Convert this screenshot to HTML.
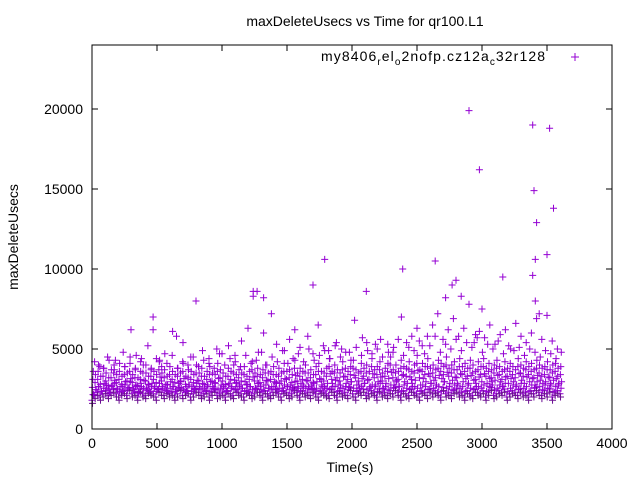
<!DOCTYPE html>
<html><head><meta charset="utf-8"><style>
body{margin:0;background:#fff}
svg text{font-family:"Liberation Sans",sans-serif;font-size:14px;fill:#000}
</style></head><body>
<svg id="chart" width="640" height="480">
<rect x="0" y="0" width="640" height="480" fill="#fff"/>
<g id="plot"></g>
<g id="axes"></g>
<text x="365" y="26" text-anchor="middle">maxDeleteUsecs vs Time for qr100.L1</text>
<text x="350" y="472" text-anchor="middle">Time(s)</text>
<text transform="translate(18,237) rotate(-90)" text-anchor="middle">maxDeleteUsecs</text>
<text x="321" y="61" textLength="224" lengthAdjust="spacing">my8406<tspan dy="4" font-size="10">r</tspan><tspan dy="-4">el</tspan><tspan dy="4" font-size="10">o</tspan><tspan dy="-4">2nofp.cz12a</tspan><tspan dy="4" font-size="10">c</tspan><tspan dy="-4">32r128</tspan></text>
</svg>
<script>
const xTicks=[0,500,1000,1500,2000,2500,3000,3500,4000];
const yTicks=[0,5000,10000,15000,20000];
const lowBand=[1800,2100,2300,2000,2200,2400,2100,2300,2500,2200,2000,2300,2400,2100,2600,2200,2300,2000,2500,2200,2100,2400,2300,2200,2000,2500,2300,2100,2400,2200,2300,2000,2200,2600,2100,2300,2400,2000,2200,2500,2300,2100,2200,2400,2000,2300,2500,2100,2200,2300,2000,2400,2200,2100,2500,2300,2200,2000,2400,2300,2100,2200,2500,2300,2000,2400,2200,2100,2300,2500,2200,2000,2400,2300,2100,2200,2600,2300,2000,2400,2200,2300,2100,2500,2200,2000,2400,2300,2200,2100,2500,2300,2000,2400,2200,2300,2100,2600,2200,2000,2400,2300,2500,2100,2200,2400,2300,2000,2500,2200,2300,2100,2400,2200,2600,2300,2000,2400,2200,2100,2500,2300,2200,2000,2400,2300,2100,2500,2200,2400,2300,2000,2600,2200,2300,2100,2400,2500,2200,2300,2000,2400,2200,2100,2500,2300,2200,2400,2000,2300,2600,2100,2200,2400,2300,2500,2000,2200,2400,2300,2100,2500,2200,2300,2000,2400,2200,2600,2300,2100,2400,2200,2500,2000,2300,2400,2200];
const midBand=[2600,2900,3100,2800,3300,3000,2700,3200,3500,2900,3100,2800,3400,3000,3600,2900,3200,2700,3100,3500,3000,2800,3300,3100,2900,3700,3000,3200,2800,3400,3100,2900,3300,3000,3600,2800,3200,3100,2900,3500,3000,3300,2800,3100,3400,3000,2900,3600,3200,3000,2800,3300,3100,3500,2900,3200,3000,3400,2800,3100,3700,3000,3300,2900,3200,3500,3000,3100,3400,2900,3300,3000,3600,3100,3200,2900,3800,3000,3300,3100,3500,3000,3200,2900,3400,3600,3100,3000,3300,3900,3100,3500,3200,3000,3700,3300,3100,3400,3800,3200,3000,3600,3300,3500,3100,3900,3200,3400,3700,3000,3300,3600,4000,3200,3500,3100,3800,3400,3300,3700,3100,3500,4100,3200,3600,3400,3900,3300,3500,3200,3800,3600,3400,4000,3300,3500,3700,3200,3900,3400,3600,3300,3800,3500,3100,3700,3400,3900,3300,3600,3200,3500,3800,3400,3100,3700,3300,3600,3400,3200,3900,3500,3300,3700,3400,3600,3200,3800,3500,3300,3400,3700,3200,3500,3600,3300,3400];
const upperBand=[3600,4000,3800,4300,3700,4100,3900,4500,3800,4200,4000,3700,4400,3900,4100,4600,3800,4200,4000,4500,3900,4300,4100,3800,4700,4000,4400,4200,3900,4600,4100,4300,4800,4000,4500,4200,4900,4100,4400,4700,4200,5000,4300,4600,4900,4400,5200,4500,4800,4300,5100,4600,5400,4700,5000,4500,5300,4800,5600,4600,5100,4900,5500,4700,5200,5800,4800,5300,5000,5600,4900,5400,5100,5700,4800,5300,5000,5500,4700,5200,4900,5100,4600,5000,4800,4500,4900,4700,4400,4800];
const highTimes=[20,60,120,180,240,300,340,380,430,470,520,560,620,650,700,760,800,850,900,960,1000,1050,1100,1150,1200,1240,1280,1320,1380,1420,1480,1520,1560,1600,1660,1700,1740,1780,1820,1880,1920,1980,2020,2080,2120,2180,2220,2280,2320,2380,2420,2460,2500,2540,2580,2620,2660,2700,2740,2780,2820,2860,2900,2940,2980,3020,3060,3100,3140,3180,3220,3260,3300,3340,3380,3420,3460,3500,3540,3580];
const highVals=[4200,3900,4500,4300,4800,6200,4600,4400,5200,7000,4300,4700,6100,5800,5400,4500,8000,4900,4400,5000,4700,5200,4600,5500,6300,8600,4800,6000,7200,5300,4900,5600,6200,5100,5800,4700,6500,5200,4900,5400,5000,4800,6800,5700,4900,5300,5600,4800,5100,7000,5400,5800,6300,5200,5800,6500,7200,5600,6200,6900,5800,6300,7800,5400,6100,5700,6500,5300,5900,6200,5000,6600,5800,5400,6000,6900,5600,7100,5500,5000];
const outTimes=[470,800,1270,1320,1240,1790,1700,2110,2390,2640,2720,2770,2800,2840,2900,2980,3000,3160,3390,3400,3410,3420,3440,3500,3520,3550,3410,3390,2950];
const outVals=[6200,8000,8600,8200,8300,10600,9000,8600,10000,10500,8200,9000,9300,8300,19900,16200,7500,9500,19000,14900,10600,12900,7200,10900,18800,13800,8000,9600,5900];

const X0=92,X1=612,Y0=429,YT=45,XMAX=4000,YMAX=24000,TEND=3600;
const sx=v=>X0+(v/XMAX)*(X1-X0);
const sy=v=>Y0-(v/YMAX)*(Y0-YT);
const NS='http://www.w3.org/2000/svg';
const plot=document.getElementById('plot'),axes=document.getElementById('axes');
function mk(tag,attrs,parent){const e=document.createElementNS(NS,tag);for(const k in attrs)e.setAttribute(k,attrs[k]);parent.appendChild(e);return e;}
const fr=mk('rect',{x:X0,y:YT,width:X1-X0,height:Y0-YT,fill:'none',stroke:'#000','stroke-width':1},axes);


xTicks.forEach(t=>{const x=sx(t);
mk('line',{x1:x,x2:x,y1:Y0,y2:Y0-6,stroke:'#000'},axes);mk('line',{x1:x,x2:x,y1:YT,y2:YT+6,stroke:'#000'},axes);
const tx=mk('text',{x:x,y:Y0+19,'text-anchor':'middle'},axes);tx.textContent=t;

});
yTicks.forEach(t=>{const y=sy(t);
mk('line',{x1:X0,x2:X0+6,y1:y,y2:y,stroke:'#000'},axes);mk('line',{x1:X1,x2:X1-6,y1:y,y2:y,stroke:'#000'},axes);
const tx=mk('text',{x:X0-9,y:y+5,'text-anchor':'end'},axes);tx.textContent=t;

});
function cross(t,v,c){const x=sx(t),y=sy(v);
const p=mk('path',{d:`M${x-3.5},${y}H${x+3.5}M${x},${y-3.5}V${y+3.5}`,stroke:c||'#9400d3','stroke-width':1},plot);

}
function band(arr,off,dv,col){const st=TEND/(arr.length-1);arr.forEach((v,i)=>cross(i*st+off,v+dv,col));}
band(lowBand,0,0);band(lowBand,8,350);band(lowBand,4,-200,'#6a0d91');
band(midBand,3,0);band(midBand,12,-450);band(midBand,6,500);
band(upperBand,10,0);
highTimes.forEach((t,i)=>cross(t,highVals[i]));
outTimes.forEach((t,i)=>cross(t,outVals[i]));
const lg=mk('path',{d:'M571,57H579M575,53V61',stroke:'#9400d3'},axes);


</script>
</body></html>
